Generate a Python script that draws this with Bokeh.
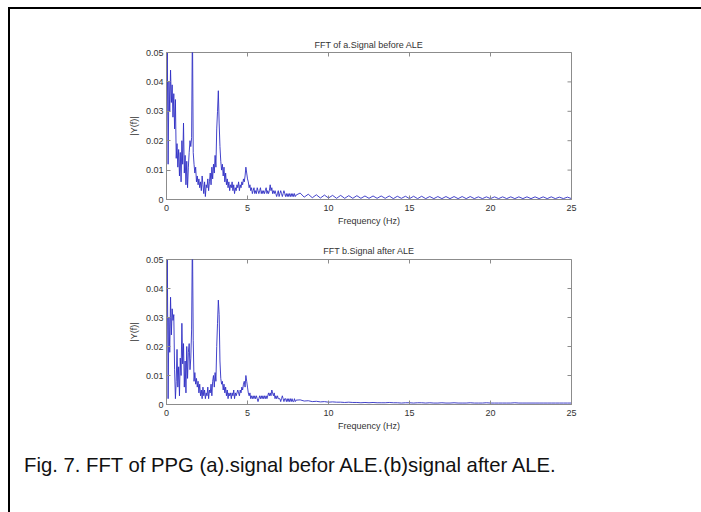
import numpy as np
from bokeh.plotting import figure
from bokeh.layouts import column, row
from bokeh.models import Range1d, FixedTicker, Div
from bokeh.embed import file_html
from bokeh.resources import INLINE

# ---------------- data ----------------
low_step_hz = 0.05      # 0 .. 8 Hz
tail_step_hz = 0.25     # 8.25 .. 25 Hz

mag_before_low = [
    0.026, 0.050, 0.012, 0.040, 0.030, 0.044, 0.033, 0.039, 0.028, 0.036,
    0.024, 0.034, 0.014, 0.019, 0.011, 0.017, 0.008, 0.016, 0.006, 0.020,
    0.012, 0.026, 0.009, 0.015, 0.005, 0.013, 0.004, 0.011, 0.016, 0.020,
    0.018, 0.021, 0.060, 0.016, 0.012, 0.009, 0.011, 0.006, 0.008, 0.005,
    0.007, 0.004, 0.006, 0.003, 0.008, 0.005, 0.002, 0.006, 0.001, 0.005,
    0.004, 0.007, 0.003, 0.006, 0.009, 0.005, 0.011, 0.007, 0.012, 0.009,
    0.015, 0.011, 0.024, 0.030, 0.037, 0.026, 0.018, 0.013, 0.010, 0.012,
    0.008, 0.011, 0.006, 0.009, 0.005, 0.007, 0.004, 0.006, 0.003, 0.005,
    0.004, 0.006, 0.003, 0.005, 0.002, 0.004, 0.003, 0.005, 0.004, 0.006,
    0.003, 0.005, 0.004, 0.006, 0.005, 0.007, 0.006, 0.008, 0.011, 0.009,
    0.007, 0.006, 0.004, 0.005, 0.003, 0.004, 0.002, 0.003, 0.004, 0.002,
    0.003, 0.002, 0.004, 0.003, 0.002, 0.003, 0.004, 0.002, 0.003, 0.002,
    0.003, 0.002, 0.003, 0.004, 0.002, 0.003, 0.002, 0.003, 0.005, 0.003,
    0.004, 0.002, 0.003, 0.002, 0.003, 0.002, 0.001, 0.002, 0.003, 0.001,
    0.002, 0.003, 0.002, 0.001, 0.002, 0.003, 0.002, 0.001, 0.002, 0.001,
    0.002, 0.001, 0.002, 0.001, 0.002, 0.001, 0.002, 0.001, 0.002, 0.001,
    0.0015,
]
mag_before_tail = [
    0.0022, 0.0008, 0.0018, 0.0006, 0.0016, 0.0005, 0.0015, 0.0005, 0.0014, 0.0004,
    0.0014, 0.0004, 0.0013, 0.0004, 0.0013, 0.0004, 0.0012, 0.0004, 0.0012, 0.0004,
    0.0012, 0.0004, 0.0012, 0.0003, 0.0011, 0.0004, 0.0011, 0.0003, 0.0011, 0.0003,
    0.0011, 0.0003, 0.0010, 0.0003, 0.0010, 0.0003, 0.0010, 0.0003, 0.0010, 0.0003,
    0.0010, 0.0003, 0.0010, 0.0003, 0.0009, 0.0003, 0.0009, 0.0003, 0.0009, 0.0003,
    0.0009, 0.0003, 0.0009, 0.0003, 0.0009, 0.0003, 0.0009, 0.0003, 0.0009, 0.0003,
    0.0009, 0.0003, 0.0009, 0.0003, 0.0008, 0.0003, 0.0008, 0.0003,
]

mag_after_low = [
    0.020, 0.052, 0.002, 0.030, 0.018, 0.037, 0.024, 0.033, 0.029, 0.031,
    0.012, 0.002, 0.008, 0.019, 0.006, 0.013, 0.003, 0.016, 0.010, 0.028,
    0.014, 0.021, 0.006, 0.015, 0.004, 0.020, 0.009, 0.018, 0.021, 0.012,
    0.016, 0.026, 0.060, 0.022, 0.008, 0.011, 0.007, 0.009, 0.006, 0.008,
    0.004, 0.007, 0.003, 0.005, 0.002, 0.006, 0.003, 0.005, 0.002, 0.004,
    0.003, 0.006, 0.002, 0.005, 0.004, 0.007, 0.003, 0.008, 0.010, 0.006,
    0.011, 0.008, 0.020, 0.028, 0.036, 0.031, 0.015, 0.009, 0.007, 0.008,
    0.005, 0.007, 0.004, 0.006, 0.003, 0.005, 0.002, 0.004, 0.003, 0.004,
    0.002, 0.004, 0.003, 0.005, 0.002, 0.004, 0.003, 0.004, 0.005, 0.004,
    0.003, 0.005, 0.004, 0.006, 0.005, 0.007, 0.008, 0.006, 0.010, 0.008,
    0.006, 0.004, 0.003, 0.004, 0.002, 0.003, 0.002, 0.003, 0.002, 0.003,
    0.002, 0.003, 0.002, 0.001, 0.002, 0.003, 0.002, 0.003, 0.002, 0.003,
    0.002, 0.003, 0.002, 0.003, 0.002, 0.003, 0.004, 0.003, 0.004, 0.003,
    0.005, 0.004, 0.003, 0.004, 0.002, 0.003, 0.002, 0.003, 0.002, 0.002,
    0.002, 0.001, 0.002, 0.003, 0.002, 0.001, 0.002, 0.002, 0.001, 0.002,
    0.001, 0.002, 0.001, 0.002, 0.001, 0.002, 0.001, 0.001, 0.002, 0.001,
    0.0015,
]
mag_after_tail = [
    0.0016, 0.0012, 0.0013, 0.0010, 0.0011, 0.0009, 0.0010, 0.0008, 0.0009, 0.0008,
    0.0008, 0.0007, 0.0008, 0.0007, 0.0007, 0.0006, 0.0007, 0.0006, 0.0007, 0.0006,
    0.0006, 0.0006, 0.0007, 0.0006, 0.0006, 0.0005, 0.0006, 0.0006, 0.0005, 0.0006,
    0.0006, 0.0005, 0.0006, 0.0005, 0.0005, 0.0006, 0.0005, 0.0005, 0.0006, 0.0005,
    0.0005, 0.0005, 0.0006, 0.0005, 0.0005, 0.0005, 0.0006, 0.0005, 0.0005, 0.0005,
    0.0005, 0.0005, 0.0005, 0.0006, 0.0005, 0.0005, 0.0005, 0.0005, 0.0005, 0.0005,
    0.0005, 0.0005, 0.0005, 0.0005, 0.0005, 0.0005, 0.0005, 0.0005,
]

x_ticks = [0, 5, 10, 15, 20, 25]
y_ticks = [0, 0.01, 0.02, 0.03, 0.04, 0.05]
y_tick_labels = ["0", "0.01", "0.02", "0.03", "0.04", "0.05"]
titles = ["FFT of a.Signal before ALE", "FFT b.Signal after ALE"]
x_label = "Frequency (Hz)"
y_label = "|Y(f)|"
caption = "Fig. 7. FFT of PPG (a).signal befor ALE.(b)signal after ALE."

# frequency bins
freq_low = [round(i * low_step_hz, 2) for i in range(len(mag_before_low))]
freq_tail = [round(8.0 + (i + 1) * tail_step_hz, 2) for i in range(len(mag_before_tail))]
freqs = freq_low + freq_tail

FONT = "Liberation Sans"
LINE = "#3030c4"
AX = "#8c8c8c"
TXT = "#333333"


def make_fig(title, mags, height, top, bottom, title_standoff):
    p = figure(width=690, height=height, output_backend="svg", toolbar_location=None,
               x_range=Range1d(0, 25), y_range=Range1d(0, 0.05),
               min_border_left=156, min_border_right=129,
               min_border_top=top, min_border_bottom=bottom,
               frame_width=405, frame_height=height - top - bottom,
               x_axis_label=x_label, y_axis_label=y_label)
    p.title.text = title
    p.title.text_font = FONT
    p.title.text_font_size = "9px"
    p.title.text_font_style = "normal"
    p.title.text_color = TXT
    p.title.align = "center"
    p.title.standoff = title_standoff
    p.grid.visible = False
    p.outline_line_color = AX
    p.background_fill_color = "white"
    p.border_fill_color = "white"
    p.line(freqs, mags, line_color=LINE, line_width=1.0, line_alpha=0.9)

    # inward ticks on top and right edges (MATLAB box style)
    p.scatter(x_ticks, [y_ticks[-1]] * len(x_ticks), marker="dash", angle=np.pi / 2,
              size=8, line_color=AX, line_width=1)
    p.scatter([x_ticks[-1]] * len(y_ticks), y_ticks, marker="dash",
              size=8, line_color=AX, line_width=1)

    for ax in (p.xaxis[0], p.yaxis[0]):
        ax.axis_line_color = AX
        ax.major_tick_line_color = AX
        ax.minor_tick_line_color = None
        ax.major_tick_in = 4
        ax.major_tick_out = 0
        ax.major_label_text_font = FONT
        ax.major_label_text_font_size = "9px"
        ax.major_label_text_color = TXT
        ax.axis_label_text_font = FONT
        ax.axis_label_text_font_size = "9px"
        ax.axis_label_text_font_style = "normal"
        ax.axis_label_text_color = TXT
    p.xaxis.ticker = FixedTicker(ticks=x_ticks)
    p.yaxis.ticker = FixedTicker(ticks=y_ticks)
    p.yaxis.major_label_overrides = dict(zip(y_ticks, y_tick_labels))
    p.xaxis.major_label_standoff = 5
    p.xaxis.axis_label_standoff = 2
    p.yaxis.major_label_standoff = 3
    p.yaxis.axis_label_standoff = 4
    return p


# page origin of the plots is (10, 9): 8/7 px margin + 2 px frame line
p1 = make_fig(titles[0], mag_before_low + mag_before_tail, 221, 43, 31, 6)
p2 = make_fig(titles[1], mag_after_low + mag_after_tail, 210, 29, 36, 8)

cap = Div(text=caption, width=690, height=80, margin=0,
          styles={"font-family": FONT, "font-size": "20.3px", "color": "#111",
                  "padding-left": "14px", "padding-top": "11px", "box-sizing": "border-box"})

top_bar = Div(text="", width=710, height=2, margin=0, styles={"background-color": "#000"})
left_bar = Div(text="", width=2, height=511, margin=0, styles={"background-color": "#000"})

layout = column(top_bar, row(left_bar, column(p1, p2, cap, spacing=0), spacing=0),
                spacing=0, margin=(7, 0, 0, 8))

open("out.html", "w").write(file_html(layout, INLINE))
